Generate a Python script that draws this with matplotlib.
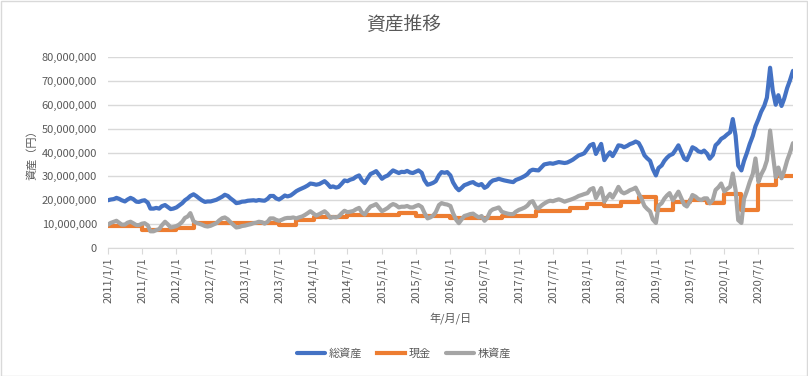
import matplotlib
matplotlib.use('Agg')
import matplotlib.pyplot as plt
from matplotlib.ticker import FuncFormatter
from matplotlib.patches import Rectangle
import pandas as pd

plt.rcParams['font.family'] = ['Noto Sans CJK JP', 'DejaVu Sans']

# semi-monthly readings (1st and 15th), millions of yen
total = [
    20.0, 20.3, 20.5, 21.0, 20.6, 20.0, 19.5, 20.3, 21.0, 20.5, 19.4, 19.3, 19.8, 20.0, 19.0, 16.5, 16.5, 16.8, 16.5, 17.5, 18.0, 17.2, 16.3, 16.5,  # 2011
    17.0, 17.8, 18.8, 20.0, 20.8, 21.8, 22.5, 21.8, 20.8, 20.0, 19.3, 19.5, 19.5, 19.8, 20.2, 20.8, 21.5, 22.3, 21.8, 20.8, 19.8, 18.8, 19.0, 19.4,  # 2012
    19.5, 19.8, 19.9, 20.0, 19.8, 20.1, 19.9, 19.8, 20.6, 21.8, 21.8, 20.8, 20.3, 21.0, 22.0, 21.6, 22.0, 22.8, 23.8, 24.4, 25.0, 25.5, 26.2, 27.0,  # 2013
    26.8, 26.5, 26.8, 27.4, 28.0, 27.0, 25.5, 25.8, 25.3, 25.6, 27.0, 28.3, 28.0, 28.6, 29.0, 29.8, 30.4, 28.5, 27.2, 29.0, 31.0, 31.5, 32.2, 30.8,  # 2014
    29.0, 29.8, 30.4, 31.5, 32.5, 32.0, 31.4, 31.9, 31.8, 32.3, 31.6, 31.4, 32.0, 32.5, 31.5, 28.5, 26.5, 26.8, 27.3, 28.0, 30.5, 31.8, 31.5, 31.8,  # 2015
    30.4, 27.5, 25.3, 24.2, 25.2, 26.3, 26.8, 27.3, 27.6, 26.8, 26.3, 26.8, 25.2, 25.8, 27.5, 28.3, 28.6, 29.0, 28.6, 28.3, 28.0, 27.8, 27.6, 28.5,  # 2016
    29.0, 29.5, 30.2, 31.0, 32.3, 32.8, 32.6, 32.5, 33.8, 35.0, 35.3, 35.5, 35.3, 35.6, 36.0, 35.8, 35.6, 35.8, 36.4, 37.0, 38.0, 38.8, 39.2, 39.7,  # 2017
    41.5, 43.0, 43.6, 39.4, 41.5, 43.6, 36.8, 38.5, 40.1, 38.5, 40.8, 43.0, 42.8, 42.2, 42.8, 43.5, 44.0, 44.6, 44.0, 42.0, 38.8, 37.6, 36.5, 33.2,  # 2018
    30.4, 33.5, 34.6, 36.5, 37.8, 38.8, 39.4, 41.0, 43.0, 40.5, 37.5, 36.8, 39.5, 42.2, 41.5, 40.5, 40.1, 40.8, 39.5, 37.4, 39.0, 43.0, 44.2, 45.7,  # 2019
    46.5, 47.5, 48.5, 54.0, 47.0, 34.5, 32.5, 36.5, 40.0, 43.5, 47.0, 51.0, 54.0, 57.0, 59.6, 63.0, 75.5, 66.0, 60.0, 64.0, 59.5, 62.5, 67.0, 70.0,  # 2020
    74.2,
]

stock = [
    9.8, 10.5, 11.0, 11.4, 10.6, 9.8, 9.8, 10.6, 11.0, 10.4, 9.6, 9.6, 10.2, 10.4, 9.5, 7.0, 7.0, 7.5, 7.9, 9.5, 11.0, 10.0, 8.6, 8.8,  # 2011
    9.2, 9.8, 11.0, 12.6, 13.2, 14.6, 11.2, 10.6, 10.2, 9.8, 9.2, 9.0, 9.3, 9.8, 10.4, 11.5, 12.5, 12.8, 12.0, 10.8, 9.6, 8.6, 8.8, 9.2,  # 2012
    9.4, 9.7, 10.0, 10.4, 10.6, 11.0, 10.8, 10.2, 11.0, 12.4, 12.4, 11.8, 11.4, 11.8, 12.4, 12.6, 12.6, 12.8, 12.4, 12.8, 13.2, 13.8, 14.6, 15.4,  # 2013
    14.4, 13.6, 14.2, 14.8, 15.4, 14.4, 12.6, 13.0, 12.8, 13.2, 14.6, 15.6, 15.0, 15.2, 15.5, 16.2, 16.8, 15.0, 14.0, 15.8, 17.4, 17.8, 18.4, 17.0,  # 2014
    15.4, 16.0, 16.8, 17.8, 18.4, 18.0, 17.0, 17.3, 17.3, 17.6, 17.0, 17.0, 17.6, 18.0, 17.2, 14.8, 12.4, 12.8, 13.6, 15.0, 18.0, 18.8, 18.4, 18.2,  # 2015
    17.6, 14.6, 11.8, 10.4, 12.0, 13.4, 13.8, 14.2, 14.4, 13.6, 12.8, 13.4, 11.4, 12.6, 15.4, 16.2, 16.6, 17.0, 15.2, 14.8, 14.4, 14.2, 14.2, 15.2,  # 2016
    16.0, 16.4, 17.0, 17.8, 19.2, 19.6, 17.0, 16.6, 17.8, 18.6, 19.4, 19.8, 19.6, 20.0, 20.4, 20.0, 19.4, 19.8, 20.2, 20.6, 21.2, 21.8, 22.2, 22.6,  # 2017
    23.0, 24.5, 25.1, 20.9, 23.0, 25.1, 19.4, 21.1, 22.7, 21.1, 23.4, 25.6, 23.5, 22.9, 23.5, 24.2, 24.7, 25.3, 22.8, 20.8, 17.6, 16.4, 15.3, 12.0,  # 2018
    10.5, 17.7, 18.8, 20.7, 22.0, 23.0, 20.0, 21.6, 23.6, 21.1, 18.1, 17.4, 19.5, 22.2, 21.5, 20.5, 20.1, 20.8, 20.8, 18.7, 20.3, 24.3, 25.5, 27.0,  # 2019
    23.7, 24.7, 25.7, 31.2, 24.2, 11.7, 10.5, 20.6, 24.1, 27.6, 31.1, 37.5, 27.7, 30.7, 33.3, 36.7, 49.2, 39.7, 29.7, 33.7, 29.2, 32.2, 36.7, 39.7,  # 2020
    43.9,
]

# cash changes stepwise
cash_dates = ['2011-01-01', '2011-07-01', '2012-01-01', '2012-04-01', '2013-07-01', '2013-10-01',
              '2014-01-01', '2014-07-01', '2015-04-01', '2015-07-01', '2016-01-01', '2016-10-01',
              '2017-04-01', '2017-10-01', '2018-01-01', '2018-04-01', '2018-07-01', '2018-10-01',
              '2019-01-01', '2019-04-01', '2019-07-01', '2019-10-01', '2020-01-01', '2020-04-01',
              '2020-07-01', '2020-10-01', '2021-01-01']
cash = [9.3, 7.6, 8.2, 10.3, 9.7, 11.8, 12.8, 13.8, 14.6, 13.6, 12.5, 13.4, 15.5, 16.7,
        18.5, 17.4, 19.3, 21.2, 15.8, 19.4, 20.0, 18.7, 22.8, 15.9, 26.3, 30.3, 30.3]

tick_labels = ['2011/1/1', '2011/7/1', '2012/1/1', '2012/7/1', '2013/1/1', '2013/7/1',
               '2014/1/1', '2014/7/1', '2015/1/1', '2015/7/1', '2016/1/1', '2016/7/1',
               '2017/1/1', '2017/7/1', '2018/1/1', '2018/7/1', '2019/1/1', '2019/7/1',
               '2020/1/1', '2020/7/1']

dates = pd.date_range('2011-01-01', '2021-01-01', freq='SMS')
assert len(dates) == len(total) == len(stock)

txt = '#595959'
grid = '#D9D9D9'

fig = plt.figure(figsize=(8.08, 3.76), dpi=100)
fig.patches.append(Rectangle((0.001, 0.001), 0.998, 0.997, transform=fig.transFigure,
                             fill=False, edgecolor=grid, linewidth=1))
ax = fig.add_axes([0.1337, 0.3404, 0.8477, 0.508])

ax.plot(dates, total, color='#4472C4', lw=3.0, label='総資産', solid_capstyle='round')
ax.plot(pd.to_datetime(cash_dates), cash, color='#ED7D31', lw=3.0, label='現金',
        drawstyle='steps-post')
ax.plot(dates, stock, color='#A5A5A5', lw=3.0, label='株資産', solid_capstyle='round')

ax.set_ylim(0, 80)
ax.set_yticks(range(0, 81, 10))
ax.yaxis.set_major_formatter(FuncFormatter(lambda v, p: f'{v * 1e6:,.0f}'))
ax.set_xlim(pd.Timestamp('2011-01-01'), pd.Timestamp('2021-01-01'))
ax.set_xticks(pd.to_datetime(tick_labels, format='%Y/%m/%d'))
ax.set_xticklabels(tick_labels, rotation=90)

ax.grid(axis='y', color=grid, lw=1)
ax.set_axisbelow(True)
for s in ['top', 'right', 'left']:
    ax.spines[s].set_visible(False)
ax.spines['bottom'].set_color(grid)
ax.tick_params(axis='y', length=0, pad=8, labelsize=8, labelcolor=txt)
ax.tick_params(axis='x', length=4, color=grid, pad=3, labelsize=8, labelcolor=txt)

fig.text(0.5, 1 - 24 / 376, '資産推移', fontsize=13.5, color=txt, ha='center', va='center')
ax.set_xlabel('年/月/日', fontsize=8, color=txt, labelpad=6)
fig.text(32 / 808, 1 - 152 / 376, '資産（円）', fontsize=8, color=txt, rotation=90,
         ha='center', va='center')

fig.legend(loc='lower center', bbox_to_anchor=(0.5, 0.02), ncol=3, frameon=False,
           fontsize=8, labelcolor=txt, handlelength=2.5, columnspacing=1.4,
           handletextpad=0.3)

fig.savefig('out.png', dpi=100)
